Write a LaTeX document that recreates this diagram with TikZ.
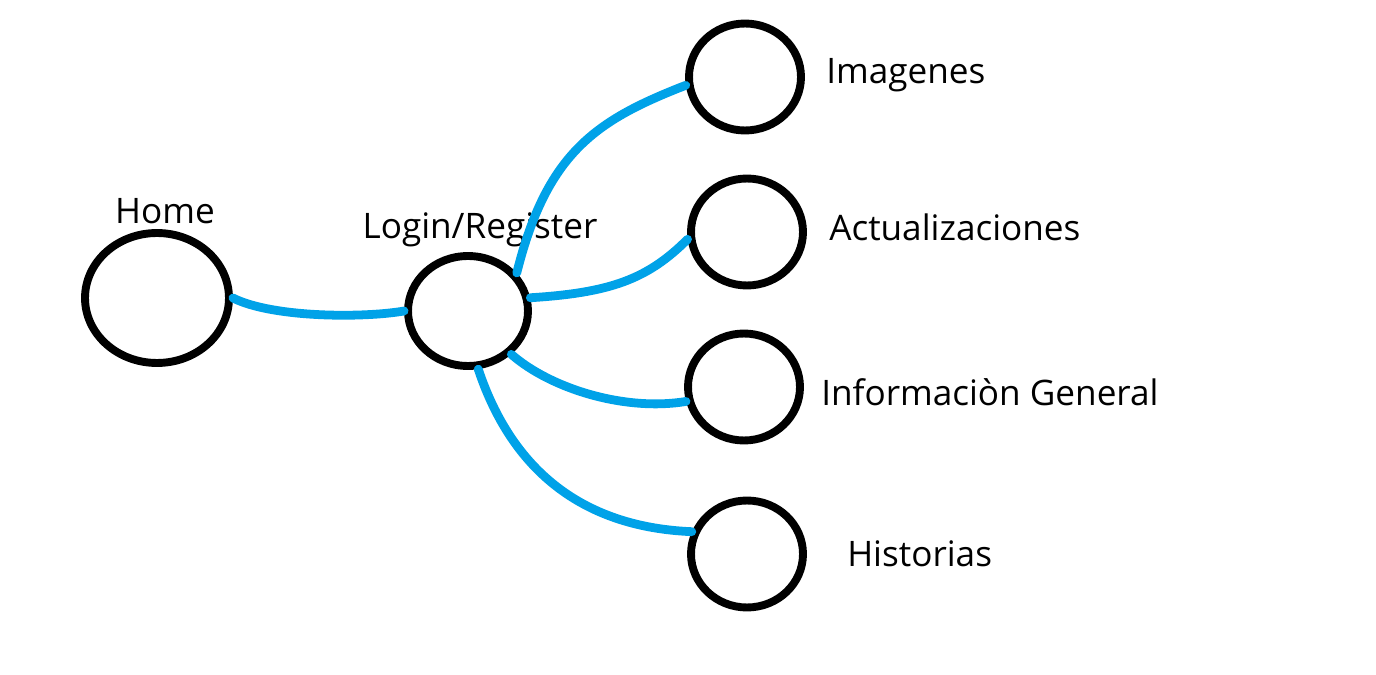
\documentclass[tikz,border=0pt]{standalone}
\usepackage{fontspec}
\setmainfont{Open Sans}
\usetikzlibrary{positioning, shapes.geometric}
\definecolor{linkblue}{HTML}{00A2E8}

\begin{document}
\begin{tikzpicture}[
  x=0.02cm, y=-0.02cm,
  page/.style={ellipse, draw=black, line width=4.5pt, inner sep=0pt, minimum width=2.24cm, minimum height=2.14cm},
  link/.style={draw=linkblue, line width=5pt, line cap=round},
  lbl/.style={inner sep=0pt, font=\fontsize{20}{24}\selectfont}
]
\useasboundingbox (0,0) rectangle (1376,675);

% pages
\node[page, minimum width=2.88cm, minimum height=2.6cm] (home) at (157,298) {};
\node[page, minimum width=2.4cm, minimum height=2.2cm] (login) at (468,311) {};
\node[page] (imag) at (745,77) {};
\node[page] (actu) at (747,232) {};
\node[page] (info) at (744,387) {};
\node[page] (hist) at (747,554) {};

% labels
\node[lbl, above=0.1cm of home, xshift=0.16cm] {Home};
\node[lbl, above=0.1cm of login, xshift=0.24cm] {Login/Register};
\node[lbl, right=0.42cm of imag, yshift=0.04cm] {Imagenes};
\node[lbl, right=0.44cm of actu, yshift=0.1cm] {Actualizaciones};
\node[lbl, right=0.34cm of info, yshift=-0.1cm] {Informaciòn General};
\node[lbl, right=0.8cm of hist] {Historias};

% links
\draw[link] (home.east) .. controls +(40,20) and +(-40,7) .. (login.west);
\draw[link] (login.38) .. controls +(30,-120) and +(-90,35) .. (imag.188);
\draw[link] (login.12) .. controls +(80,-5) and +(-40,40) .. (actu.187);
\draw[link] (login.-45) .. controls +(40,35) and +(-60,10) .. (info.194);
\draw[link] (login.-80) .. controls +(30,90) and +(-120,-5) .. (hist.158);

\end{tikzpicture}
\end{document}
